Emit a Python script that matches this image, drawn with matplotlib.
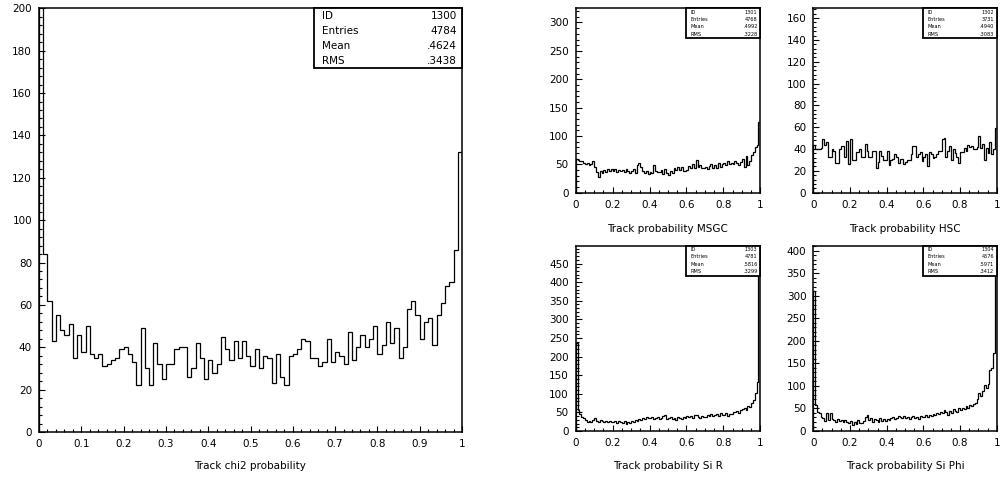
import matplotlib
matplotlib.use('Agg')
import matplotlib.pyplot as plt
import numpy as np
from matplotlib.patches import Rectangle
from matplotlib.ticker import MultipleLocator, FuncFormatter


# bin contents, 100 bins on [0, 1] each
chi2_counts = [
    320, 84, 62, 43, 55, 48, 46, 51, 35, 46,
    38, 50, 37, 35, 37, 31, 32, 34, 35, 39,
    40, 37, 33, 22, 49, 30, 22, 42, 32, 25,
    32, 32, 39, 40, 40, 26, 30, 42, 35, 25,
    34, 28, 32, 45, 39, 34, 43, 35, 43, 36,
    31, 39, 30, 36, 35, 23, 37, 26, 22, 36,
    37, 39, 44, 43, 35, 35, 31, 33, 44, 33,
    38, 36, 32, 47, 34, 40, 46, 40, 44, 50,
    37, 41, 52, 42, 49, 35, 40, 58, 62, 55,
    44, 52, 54, 41, 55, 61, 69, 71, 86, 132]

msgc_counts = [
    60, 57, 55, 55, 52, 50, 52, 48, 51, 55,
    45, 36, 28, 38, 34, 40, 37, 41, 39, 42,
    38, 41, 37, 40, 38, 40, 36, 42, 39, 35,
    38, 41, 35, 48, 52, 46, 38, 35, 38, 33,
    37, 35, 48, 38, 37, 36, 40, 33, 42, 34,
    32, 38, 34, 44, 40, 46, 40, 45, 38, 39,
    40, 47, 43, 50, 44, 57, 45, 48, 43, 44,
    46, 42, 47, 50, 44, 49, 43, 52, 46, 50,
    52, 48, 55, 51, 53, 50, 56, 52, 48, 54,
    60, 45, 64, 48, 56, 66, 72, 80, 84, 124]

hsc_counts = [
    44, 40, 40, 40, 41, 49, 44, 46, 33, 33,
    40, 38, 27, 27, 40, 43, 43, 33, 47, 26,
    49, 30, 30, 37, 37, 40, 33, 33, 45, 38,
    33, 33, 38, 38, 23, 28, 38, 34, 30, 30,
    38, 25, 30, 31, 35, 33, 27, 31, 31, 26,
    28, 30, 30, 35, 43, 43, 33, 35, 37, 29,
    33, 35, 24, 37, 35, 32, 33, 35, 38, 38,
    49, 50, 33, 38, 43, 30, 40, 36, 33, 27,
    37, 37, 41, 38, 44, 42, 43, 40, 40, 42,
    52, 41, 45, 30, 41, 36, 46, 35, 40, 59]

sir_counts = [
    237, 56, 47, 38, 35, 30, 25, 28, 24, 30,
    34, 27, 25, 29, 26, 24, 28, 25, 27, 23,
    25, 26, 22, 28, 24, 21, 27, 19, 24, 22,
    27, 25, 30, 28, 33, 29, 36, 31, 38, 35,
    34, 37, 32, 35, 38, 31, 36, 40, 42, 33,
    36, 38, 32, 35, 30, 37, 34, 33, 38, 35,
    40, 37, 41, 36, 42, 44, 38, 36, 41, 37,
    38, 42, 39, 45, 40, 43, 46, 40, 48, 42,
    44, 49, 41, 47, 45, 52, 50, 54, 48, 56,
    58, 62, 57, 66, 65, 74, 83, 101, 133, 440]

siphi_counts = [
    310, 58, 43, 39, 30, 28, 22, 40, 24, 40,
    26, 25, 20, 27, 22, 24, 19, 25, 21, 18,
    22, 13, 20, 16, 24, 18, 17, 22, 31, 35,
    25, 28, 20, 27, 24, 19, 28, 22, 26, 23,
    27, 25, 28, 30, 26, 29, 34, 30, 28, 33,
    29, 31, 27, 30, 33, 28, 31, 27, 34, 30,
    32, 35, 30, 36, 33, 38, 35, 40, 37, 43,
    39, 47, 42, 36, 45, 40, 48, 44, 42, 50,
    46, 52, 49, 55, 50, 58, 55, 60, 63, 70,
    84, 78, 88, 102, 95, 105, 135, 140, 172, 375]

stat_names = ['ID', 'Entries', 'Mean', 'RMS']
chi2_stats = ['1300', '4784', '.4624', '.3438']
msgc_stats = ['1301', '4768', '.4992', '.3228']
hsc_stats = ['1302', '3731', '.4940', '.3083']
sir_stats = ['1303', '4781', '.5816', '.3299']
siphi_stats = ['1304', '4576', '.5971', '.3412']

titles = ['Track chi2 probability', 'Track probability MSGC',
          'Track probability HSC', 'Track probability Si R',
          'Track probability Si Phi']

edges = np.linspace(0, 1, 101)
FONT = 'DejaVu Sans'


def draw_hist(fig, rect, counts, ymax, ymajor, yminor, xmajor, xminor,
              stats, title, title_y, big=False):
    ax = fig.add_axes(rect)
    ax.stairs(counts, edges, baseline=0, color='black', linewidth=0.9)
    ax.set_xlim(0, 1)
    ax.set_ylim(0, ymax)

    ax.xaxis.set_major_locator(MultipleLocator(xmajor))
    ax.xaxis.set_minor_locator(MultipleLocator(xminor))
    ax.yaxis.set_major_locator(MultipleLocator(ymajor))
    ax.yaxis.set_minor_locator(MultipleLocator(yminor))
    ax.xaxis.set_major_formatter(FuncFormatter(lambda v, p: '%g' % round(v, 3)))
    ax.yaxis.set_major_formatter(FuncFormatter(lambda v, p: '%d' % v))

    ax.tick_params(which='both', direction='in', top=False, right=False,
                   labelsize=7.5, width=0.8)
    ax.tick_params(which='major', length=4.5, pad=5)
    ax.tick_params(which='minor', length=2.5)
    for lab in ax.get_xticklabels() + ax.get_yticklabels():
        lab.set_family(FONT)
    for s in ax.spines.values():
        s.set_linewidth(1.1)

    # statistics box, top right corner
    if big:
        bx, by, fs, lpad, rpad = 0.649, 0.859, 7.5, 0.02, 0.012
    else:
        bx, by, fs, lpad, rpad = 0.598, 0.838, 3.6, 0.025, 0.015
    ax.add_patch(Rectangle((bx, by), 1 - bx, 1 - by, transform=ax.transAxes,
                           facecolor='white', edgecolor='black',
                           linewidth=1.3, zorder=5, clip_on=False))
    row_h = (1 - by) / 4.0
    for i in range(4):
        yy = 1 - row_h * (i + 0.5)
        ax.text(bx + lpad, yy, stat_names[i], transform=ax.transAxes,
                ha='left', va='center', fontsize=fs, family=FONT, zorder=6)
        ax.text(1 - rpad, yy, stats[i], transform=ax.transAxes,
                ha='right', va='center', fontsize=fs, family=FONT, zorder=6)

    fig.text(rect[0] + rect[2] / 2, title_y, title, ha='center',
             va='center', fontsize=7.5, family=FONT)
    return ax


fig = plt.figure(figsize=(10, 4.78), dpi=100)

draw_hist(fig, [0.039, 0.0962, 0.423, 0.8864], chi2_counts, 200, 20, 4,
          0.1, 0.02, chi2_stats, titles[0], 0.025, big=True)
draw_hist(fig, [0.5757, 0.5969, 0.1846, 0.3857], msgc_counts, 325, 50, 10,
          0.2, 0.05, msgc_stats, titles[1], 0.521)
draw_hist(fig, [0.8133, 0.5969, 0.1835, 0.3857], hsc_counts, 169, 20, 4,
          0.2, 0.05, hsc_stats, titles[2], 0.521)
draw_hist(fig, [0.5757, 0.0983, 0.1846, 0.3877], sir_counts, 498, 50, 10,
          0.2, 0.05, sir_stats, titles[3], 0.025)
draw_hist(fig, [0.8133, 0.0983, 0.1835, 0.3877], siphi_counts, 411, 50, 10,
          0.2, 0.05, siphi_stats, titles[4], 0.025)

fig.savefig('out.png', dpi=100)
